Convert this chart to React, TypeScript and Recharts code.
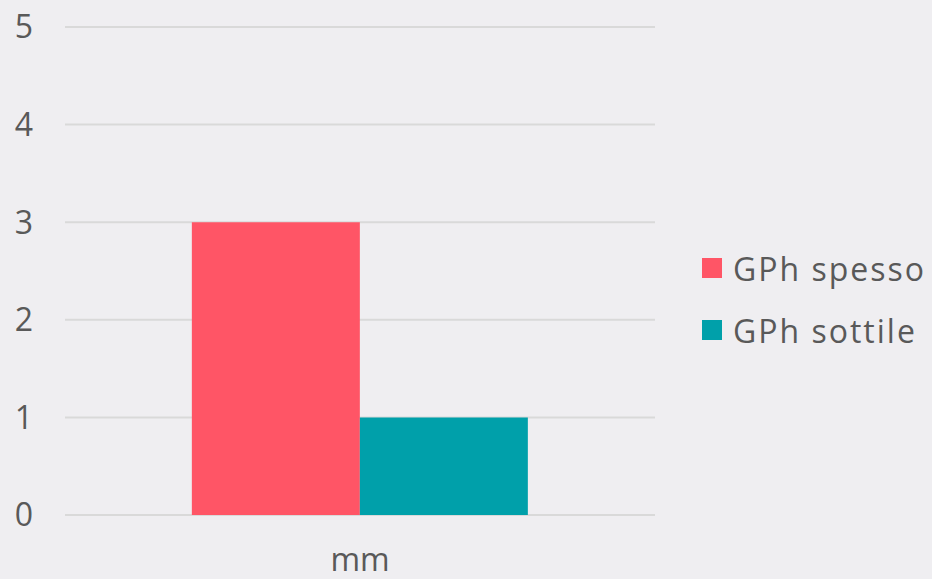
import React from "react";
import { BarChart, Bar, XAxis, YAxis, CartesianGrid, Legend } from "recharts";

const categories = ["mm"];
const spessoValues = [3];
const sottileValues = [1];
const yTicks = [0, 1, 2, 3, 4, 5];
const seriesNames = ["GPh spesso", "GPh sottile"];
const seriesColors = ["#FF5566", "#00A0AA"];

const data = categories.map((c, i) => ({
  name: c,
  spesso: spessoValues[i],
  sottile: sottileValues[i],
}));

const FONT = "'Open Sans', sans-serif";

const LegendContent = () => (
  <div style={{ fontFamily: FONT, fontSize: 32, color: "#595959", letterSpacing: 2 }}>
    {seriesNames.map((n, i) => (
      <div key={n} style={{ display: "flex", alignItems: "center", height: 62 }}>
        <div style={{ width: 20, height: 20, background: seriesColors[i], marginRight: 11 }} />
        <span>{n}</span>
      </div>
    ))}
  </div>
);

export default function App() {
  return (
    <div style={{ position: "absolute", left: 0, top: 0, width: 932, height: 579, background: "#EFEEF1" }}>
      <BarChart
        width={932}
        height={579}
        data={data}
        margin={{ top: 27, right: 277, bottom: 0, left: 0 }}
        barCategoryGap="21.5%"
        barGap={0}
      >
        <CartesianGrid vertical={false} stroke="#D9D9D9" strokeWidth={2} />
        <XAxis
          dataKey="name"
          axisLine={false}
          tickLine={false}
          height={64}
          tickSize={0}
          tickMargin={33}
          tick={{ fill: "#595959", fontSize: 32, fontFamily: FONT }}
        />
        <YAxis
          domain={[0, 5]}
          ticks={yTicks}
          axisLine={false}
          tickLine={false}
          width={65}
          tickSize={0}
          tickMargin={32}
          tick={{ fill: "#595959", fontSize: 32, fontFamily: FONT }}
        />
        <Legend
          layout="vertical"
          align="center"
          verticalAlign="middle"
          content={<LegendContent />}
          wrapperStyle={{ left: 702, top: 237, width: 230 }}
        />
        <Bar dataKey="spesso" name={seriesNames[0]} fill={seriesColors[0]} isAnimationActive={false} />
        <Bar dataKey="sottile" name={seriesNames[1]} fill={seriesColors[1]} isAnimationActive={false} />
      </BarChart>
    </div>
  );
}
